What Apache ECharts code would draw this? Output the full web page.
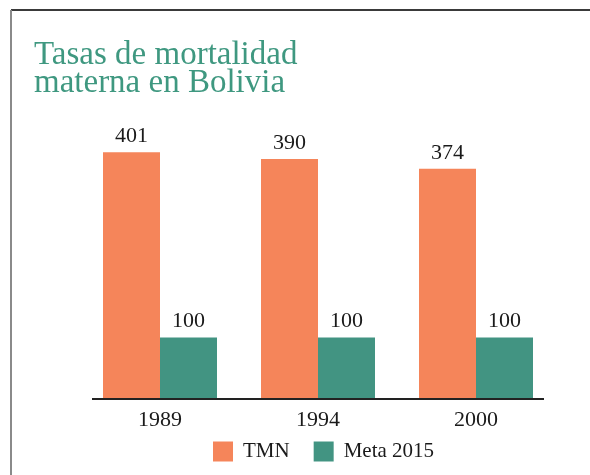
<!DOCTYPE html>
<html>
<head>
<meta charset="utf-8">
<script src="https://cdn.jsdelivr.net/npm/echarts@6/dist/echarts.min.js"></script>
<style>
  html, body { margin: 0; padding: 0; background: #fff; }
  #chart { width: 590px; height: 475px; }
</style>
</head>
<body>
<div id="chart"></div>
<script>
const years = ['1989', '1994', '2000'];
const tmn = [401, 390, 374];
const meta2015 = [100, 100, 100];

const serif = '"Liberation Serif", "DejaVu Serif", serif';
const labelStyle = {
  show: true,
  position: 'top',
  distance: 5,
  color: '#1a1a1a',
  fontFamily: serif,
  fontSize: 22
};

const chart = echarts.init(document.getElementById('chart'));
chart.setOption({
  backgroundColor: '#fff',
  animation: false,
  title: {
    text: 'Tasas de mortalidad\nmaterna en Bolivia',
    left: 29,
    top: 36,
    textStyle: {
      color: '#3f9880',
      fontFamily: serif,
      fontWeight: 'normal',
      fontSize: 33,
      lineHeight: 28
    }
  },
  legend: {
    left: 208,
    top: 436,
    itemWidth: 20,
    itemHeight: 20,
    itemGap: 24,
    icon: 'rect',
    textStyle: { color: '#1a1a1a', fontFamily: serif, fontSize: 21, padding: [0, 0, 0, 5] },
    data: ['TMN', 'Meta 2015']
  },
  grid: { left: 81, right: 35, top: 122, bottom: 76 },
  xAxis: {
    type: 'category',
    data: years,
    axisLine: { show: false },
    axisTick: { show: false },
    axisLabel: { color: '#1a1a1a', fontFamily: serif, fontSize: 22, margin: 10 }
  },
  yAxis: {
    type: 'value',
    min: 0,
    max: 450,
    show: false,
    splitLine: { show: false }
  },
  graphic: [
    { type: 'rect', shape: { x: 11, y: 9, width: 579, height: 2 }, style: { fill: '#3a3a3a' } },
    { type: 'rect', shape: { x: 10, y: 10, width: 2, height: 465 }, style: { fill: '#8a8a8a' } },
    { type: 'rect', shape: { x: 92, y: 398, width: 452, height: 2 }, style: { fill: '#222' }, z: 10 }
  ],
  series: [
    {
      name: 'TMN',
      type: 'bar',
      data: tmn,
      barWidth: 57,
      barGap: '0%',
      itemStyle: { color: '#f5855a' },
      label: labelStyle
    },
    {
      name: 'Meta 2015',
      type: 'bar',
      data: meta2015,
      barWidth: 57,
      itemStyle: { color: '#429482' },
      label: labelStyle
    }
  ]
});
</script>
</body>
</html>
